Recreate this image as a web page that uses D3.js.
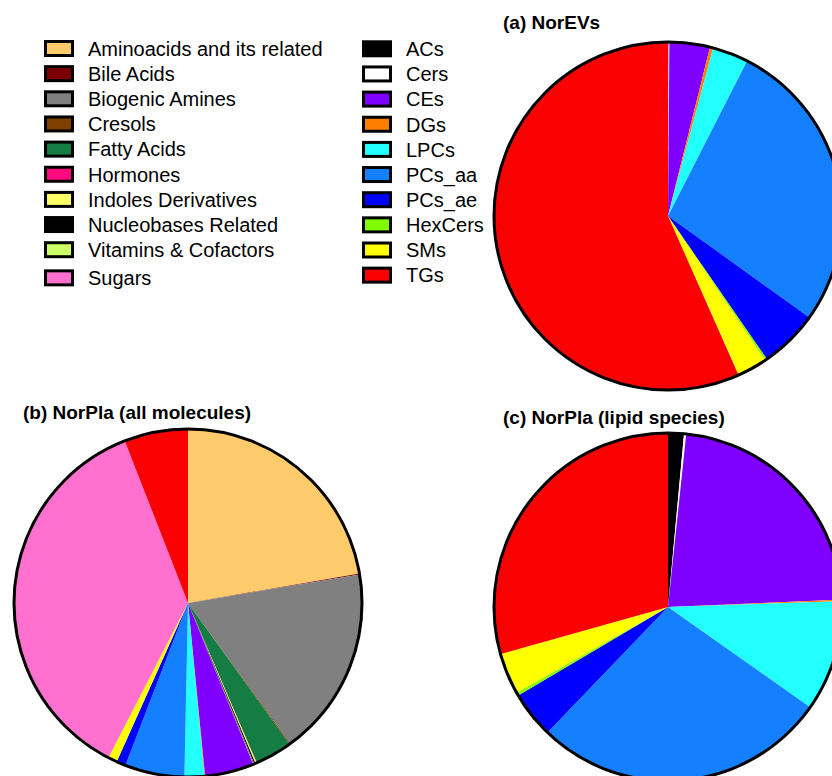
<!DOCTYPE html>
<html>
<head>
<meta charset="utf-8">
<script src="https://cdn.jsdelivr.net/npm/d3@7/dist/d3.min.js"></script>
<style>
  html, body { margin: 0; padding: 0; background: #fff; }
  svg { display: block; }
  text { font-family: "Liberation Sans", Arial, sans-serif; fill: #000; }
</style>
</head>
<body>
<svg id="chart" width="832" height="776"></svg>
<script>
// Metabolite classes (left legend column) and lipid classes (right legend column)
const metaboliteClasses = [
  "Aminoacids and its related", "Bile Acids", "Biogenic Amines", "Cresols",
  "Fatty Acids", "Hormones", "Indoles Derivatives", "Nucleobases Related",
  "Vitamins & Cofactors", "Sugars"
];
const metaboliteColors = [
  "#FDCB6B", "#7B0000", "#808080", "#7F3F00",
  "#157D43", "#FF0A7E", "#FFFF66", "#000000",
  "#CCFF66", "#FF70CF"
];
const lipidClasses = [
  "ACs", "Cers", "CEs", "DGs", "LPCs", "PCs_aa", "PCs_ae", "HexCers", "SMs", "TGs"
];
const lipidColors = [
  "#000000", "#FFFFFF", "#8000FF", "#FF8000", "#22FFFF",
  "#1480FF", "#0000FF", "#80FF00", "#FFFF00", "#FA0000"
];

// (a) NorEVs — lipid classes, % of total
const norEVsLabels = lipidClasses;
const norEVsValues = [0.05, 0.08, 3.75, 0.3, 3.33, 27.4, 5.47, 0.2, 2.78, 56.64];

// (b) NorPla — all molecules, % of total
const norPlaAllLabels = [
  "Aminoacids and its related", "Bile Acids", "Biogenic Amines", "Cresols",
  "Fatty Acids", "Hormones", "Indoles Derivatives", "Nucleobases Related",
  "Vitamins & Cofactors", "ACs", "Cers", "CEs", "DGs", "LPCs", "PCs_aa",
  "PCs_ae", "HexCers", "SMs", "Sugars", "TGs"
];
const norPlaAllValues = [
  22.3, 0.08, 17.6, 0.1,
  3.45, 0.03, 0.1, 0.12,
  0.03, 0.05, 0.03, 4.55, 0.06, 1.83, 5.53,
  0.86, 0.02, 0.82, 36.52, 5.92
];

// (c) NorPla — lipid species, % of total
const norPlaLipidLabels = lipidClasses;
const norPlaLipidValues = [1.47, 0.2, 22.65, 0.15, 10.31, 27.39, 4.33, 0.3, 3.84, 29.36];

const color = d3.scaleOrdinal()
  .domain(metaboliteClasses.concat(lipidClasses))
  .range(metaboliteColors.concat(lipidColors));

const svg = d3.select("#chart");
svg.append("rect").attr("width", 832).attr("height", 776).attr("fill", "#fff");

const radius = 174;
const pie = d3.pie().sort(null).value(d => d.value);
const arc = d3.arc().innerRadius(0).outerRadius(radius);

function drawPie(cx, cy, labels, values, title, titleX, titleY) {
  const data = labels.map((l, i) => ({ label: l, value: values[i] }));
  const g = svg.append("g").attr("transform", `translate(${cx},${cy})`);
  g.selectAll("path.slice")
    .data(pie(data))
    .join("path")
    .attr("class", "slice")
    .attr("d", arc)
    .attr("fill", d => color(d.data.label));
  g.append("circle")
    .attr("r", radius)
    .attr("fill", "none")
    .attr("stroke", "#000")
    .attr("stroke-width", 3);
  svg.append("text")
    .attr("x", titleX)
    .attr("y", titleY)
    .attr("font-size", 19)
    .attr("font-weight", "bold")
    .text(title);
}

drawPie(668, 216, norEVsLabels, norEVsValues, "(a) NorEVs", 503, 29);
drawPie(188, 603, norPlaAllLabels, norPlaAllValues, "(b) NorPla (all molecules)", 23, 419);
drawPie(668, 607, norPlaLipidLabels, norPlaLipidValues, "(c) NorPla (lipid species)", 503, 424);

// Legend
const rowStep = 25.15;
function drawLegend(items, x, textX, y0, lastExtra) {
  const g = svg.append("g");
  items.forEach((name, i) => {
    const cy = y0 + i * rowStep + (i === items.length - 1 ? lastExtra : 0);
    g.append("rect")
      .attr("x", x + 1.5)
      .attr("y", cy - 7)
      .attr("width", 27)
      .attr("height", 14)
      .attr("fill", color(name))
      .attr("stroke", "#000")
      .attr("stroke-width", 3);
    g.append("text")
      .attr("x", textX)
      .attr("y", cy + 7.3)
      .attr("font-size", 20)
      .text(name);
  });
}
drawLegend(metaboliteClasses, 44, 88, 48.5, 3);
drawLegend(lipidClasses, 362, 406, 48.8, 0);
</script>
</body>
</html>
